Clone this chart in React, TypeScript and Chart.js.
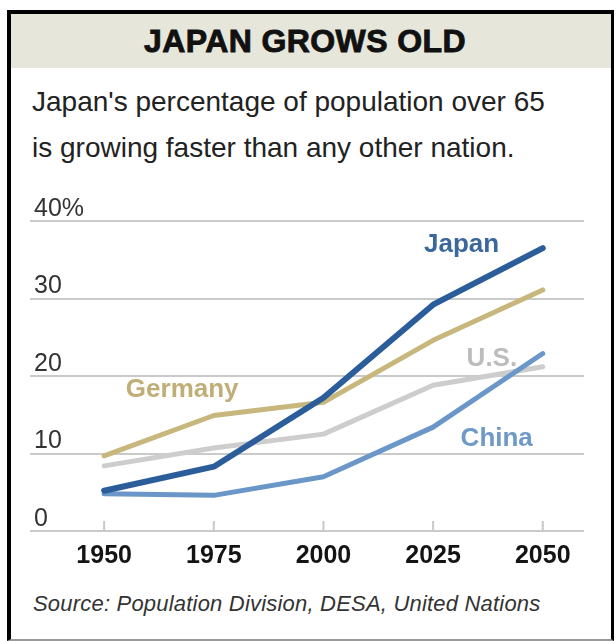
import React, { useEffect, useRef } from "react";
import { Chart, registerables } from "chart.js";

Chart.register(...registerables);

// ---- data ----
const years = [1950, 1975, 2000, 2025, 2050];
const japan = [5.2, 8.3, 17.2, 29.2, 36.5];
const germany = [9.7, 14.9, 16.6, 24.6, 31.1];
const us = [8.4, 10.7, 12.5, 18.8, 21.2];
const china = [4.8, 4.6, 7.0, 13.4, 22.9];
const yTicks = [0, 10, 20, 30, 40];
const yTickLabels = ["0", "10", "20", "30", "40%"];
const seriesNames = ["Japan", "Germany", "U.S.", "China"];

const FONT = "'Liberation Sans', Arial, Helvetica, sans-serif";

const COLORS = {
  japan: "#2b5d9b",
  germany: "#c8b77d",
  us: "#cdcdcd",
  china: "#6a97c8",
};

// series label placement (in data space)
const seriesLabels = [
  { text: seriesNames[0], x: 2031.5, y: 36.9, color: "#3b679d" },
  { text: seriesNames[1], x: 1967.8, y: 18.2, color: "#c0ae76" },
  { text: seriesNames[2], x: 2038.4, y: 22.2, color: "#bcbcbc" },
  { text: seriesNames[3], x: 2039.5, y: 11.9, color: "#6f99c8" },
];

export default function App() {
  const ref = useRef<HTMLCanvasElement | null>(null);

  useEffect(() => {
    if (!ref.current) return;
    const toPts = (arr: number[]) => years.map((y, i) => ({ x: y, y: arr[i] }));

    const tickMarks = {
      id: "tickMarks",
      beforeDatasetsDraw(chart: any) {
        const { ctx, chartArea, scales } = chart;
        ctx.save();
        ctx.strokeStyle = "#c8c8c8";
        ctx.lineWidth = 2;
        years.forEach((yr) => {
          const x = scales.x.getPixelForValue(yr);
          ctx.beginPath();
          ctx.moveTo(x, chartArea.bottom);
          ctx.lineTo(x, chartArea.bottom - 10);
          ctx.stroke();
        });
        ctx.restore();
      },
    };

    const labelsPlugin = {
      id: "seriesLabels",
      afterDatasetsDraw(chart: any) {
        const { ctx, scales } = chart;
        ctx.save();
        ctx.font = `bold 26px ${FONT}`;
        ctx.textAlign = "center";
        ctx.textBaseline = "middle";
        seriesLabels.forEach((l) => {
          ctx.fillStyle = l.color;
          ctx.fillText(l.text, scales.x.getPixelForValue(l.x), scales.y.getPixelForValue(l.y));
        });
        ctx.restore();
      },
    };

    const ds = (label: string, data: number[], color: string, width: number, order: number) => ({
      label,
      data: toPts(data),
      borderColor: color,
      backgroundColor: color,
      borderWidth: width,
      pointRadius: 0,
      tension: 0,
      borderCapStyle: "round" as const,
      borderJoinStyle: "round" as const,
      order,
    });

    const chart = new Chart(ref.current, {
      type: "line",
      data: {
        datasets: [
          ds(seriesNames[0], japan, COLORS.japan, 6, 0),
          ds(seriesNames[3], china, COLORS.china, 5, 1),
          ds(seriesNames[1], germany, COLORS.germany, 5, 2),
          ds(seriesNames[2], us, COLORS.us, 5, 3),
        ],
      },
      options: {
        animation: false,
        responsive: false,
        maintainAspectRatio: false,
        events: [],
        layout: { padding: { left: 30, right: 32, top: 31, bottom: 0 } },
        plugins: { legend: { display: false }, tooltip: { enabled: false }, title: { display: false } },
        scales: {
          x: {
            type: "linear",
            min: 1933.1,
            max: 2059.4,
            afterBuildTicks: (s: any) => {
              s.ticks = years.map((v) => ({ value: v }));
            },
            afterFit: (s: any) => {
              s.height = 49;
            },
            grid: { display: false, drawTicks: false },
            border: { display: false },
            ticks: {
              padding: 10,
              color: "#141414",
              font: { family: FONT, size: 25, weight: "bold" },
              callback: (v: any) => String(v),
              maxRotation: 0,
              autoSkip: false,
            },
          },
          y: {
            type: "linear",
            min: 0,
            max: 40,
            afterBuildTicks: (s: any) => {
              s.ticks = yTicks.map((v) => ({ value: v }));
            },
            afterFit: (s: any) => {
              s.width = 0;
            },
            grid: { color: "#cacaca", lineWidth: 2, drawTicks: false },
            border: { display: false },
            ticks: {
              mirror: true,
              padding: 4,
              labelOffset: -12,
              color: "#333333",
              font: { family: FONT, size: 25 },
              callback: (v: any) => {
                const i = yTicks.indexOf(Number(v));
                return i >= 0 ? yTickLabels[i] : "";
              },
            },
          },
        },
      },
      plugins: [tickMarks, labelsPlugin],
    });
    return () => chart.destroy();
  }, []);

  return (
    <div
      style={{
        position: "absolute",
        left: 0,
        top: 0,
        width: 616,
        height: 641,
        background: "#ffffff",
        overflow: "hidden",
        fontFamily: FONT,
      }}
    >
      <div
        style={{
          position: "absolute",
          left: 7,
          top: 10,
          width: 607 - 4 - 3,
          height: 631 - 4 - 2,
          borderLeft: "4px solid #000",
          borderTop: "4px solid #000",
          borderRight: "3px solid #000",
          borderBottom: "2px solid #9a9a9a",
        }}
      />
      <div
        style={{
          position: "absolute",
          left: 11,
          top: 14,
          width: 588,
          paddingRight: 12,
          height: 54,
          background: "#e6e7da",
          display: "flex",
          alignItems: "center",
          justifyContent: "center",
          fontWeight: "bold",
          fontSize: 32,
          color: "#111",
          WebkitTextStroke: "0.9px #111",
          letterSpacing: 0.4,
        }}
      >
        JAPAN GROWS OLD
      </div>
      <div
        style={{
          position: "absolute",
          left: 32,
          top: 79,
          fontSize: 28,
          lineHeight: "46px",
          color: "#222",
        }}
      >
        Japan's percentage of population over 65
        <br />
        is growing faster than any other nation.
      </div>
      <canvas
        ref={ref}
        width={616}
        height={390}
        style={{ position: "absolute", left: 0, top: 190, width: 616, height: 390 }}
      />
      <div
        style={{
          position: "absolute",
          left: 33,
          top: 591,
          fontSize: 22,
          fontStyle: "italic",
          color: "#333",
          letterSpacing: 0.2,
        }}
      >
        Source: Population Division, DESA, United Nations
      </div>
    </div>
  );
}
